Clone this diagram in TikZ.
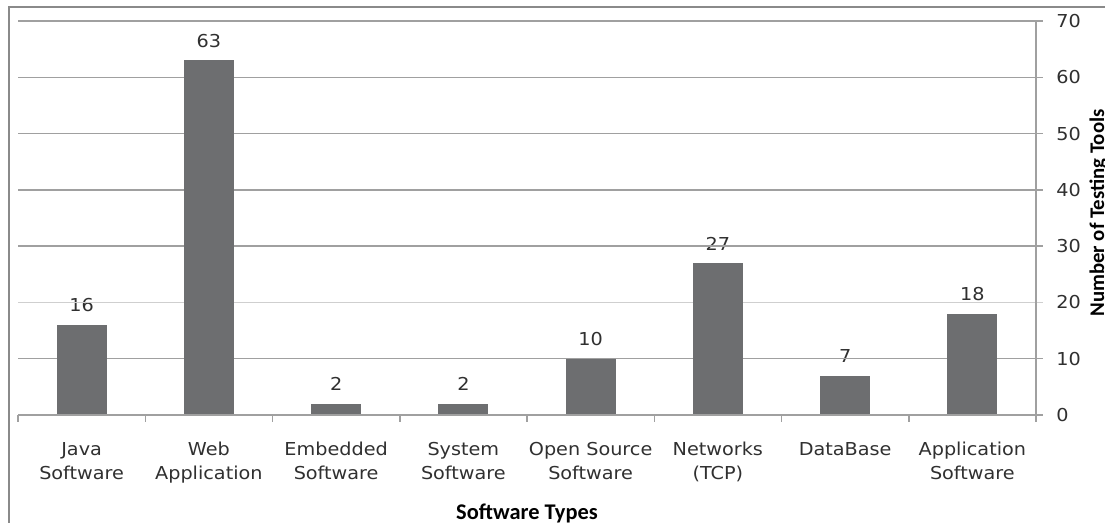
\documentclass[tikz,border=0pt]{standalone}
\usepackage{fontspec}
\newfontfamily\labfont[FakeStretch=1.08]{DejaVu Sans}
\newfontfamily\titfont{Carlito}
\definecolor{barcol}{HTML}{6D6E70}
\definecolor{gridcol}{HTML}{A0A0A0}
\definecolor{framecol}{HTML}{8A8A8A}
\definecolor{txtcol}{HTML}{303030}
\tikzset{
  gridline/.style={draw=gridcol, line width=0.75pt},
  axisline/.style={draw=gridcol, line width=0.75pt},
  framebox/.style={draw=framecol, line width=1pt},
  barbox/.style={fill=barcol},
  catlab/.style={font=\labfont\fontsize{8.9}{12}\selectfont, text=txtcol, align=center, anchor=base, inner sep=0pt},
  vallab/.style={font=\labfont\fontsize{8.9}{12}\selectfont, text=txtcol, anchor=base, inner sep=0pt},
  ticklab/.style={font=\labfont\fontsize{8.9}{12}\selectfont, text=txtcol, anchor=west, inner sep=0pt},
  axtitle/.style={font=\titfont\bfseries\fontsize{11.2}{13}\selectfont, text=black, inner sep=0pt, anchor=base}
}
\begin{document}
\begin{tikzpicture}[x=0.5pt,y=-0.5pt]
\useasboundingbox (0,0) rectangle (1105,523);
\fill[white] (0,0) rectangle (1105,523);
\draw[framebox] (9,524) -- (9,7) -- (1106,7);
% data labels (beneath gridlines)
\foreach \i/\v in {1/16,2/63,3/2,4/2,5/10,6/27,7/7,8/18}{
  \node[vallab] (v\i) at ({18+127.25*(\i-0.5)},{415-\v*5.629-13}) {\v};
}
% gridlines
\foreach \v in {10,30,40,50,60,70}{
  \draw[gridline] (18,{415-\v*5.629}) -- (1043,{415-\v*5.629});
}
\draw[gridline, draw=gridcol!50] (18,{415-20*5.629}) -- (1043,{415-20*5.629});
% bars
\foreach \i/\v in {1/16,2/63,3/2,4/2,5/10,6/27,7/7,8/18}{
  \fill[barbox] ({18+127.25*(\i-0.5)-25},415) rectangle ({18+127.25*(\i-0.5)+25},{415-\v*5.629});
}
% axes
\draw[axisline] (18,415) -- (1043,415);
\draw[axisline] (1036,21) -- (1036,415);
\foreach \i in {0,...,8}{
  \draw[axisline] ({18+127.25*\i},415) -- ({18+127.25*\i},422);
}
% tick labels
\foreach \v in {0,10,...,70}{
  \node[ticklab] (t\v) at (1056,{415-\v*5.629}) {\v};
}
% category labels (base = baseline of the last line)
\node[catlab] (c1) at ({18+127.25*0.5},480) {Java\\Software};
\node[catlab] (c2) at ({18+127.25*1.5},480) {Web\\Application};
\node[catlab] (c3) at ({18+127.25*2.5},480) {Embedded\\Software};
\node[catlab] (c4) at ({18+127.25*3.5},480) {System\\Software};
\node[catlab] (c5) at ({18+127.25*4.5},480) {Open Source\\Software};
\node[catlab] (c6) at ({18+127.25*5.5},480) {Networks\\(TCP)};
\node[catlab] (c7) at ({18+127.25*6.5},456) {DataBase};
\node[catlab] (c8) at ({18+127.25*7.5},480) {Application\\Software};
% axis titles
\node[axtitle] (xt) at (527,520) {Software Types};
\node[axtitle, rotate=90, font=\titfont\bfseries\fontsize{10.4}{13}\selectfont] (yt) at (1104,213) {Number of Testing Tools};
\end{tikzpicture}
\end{document}
